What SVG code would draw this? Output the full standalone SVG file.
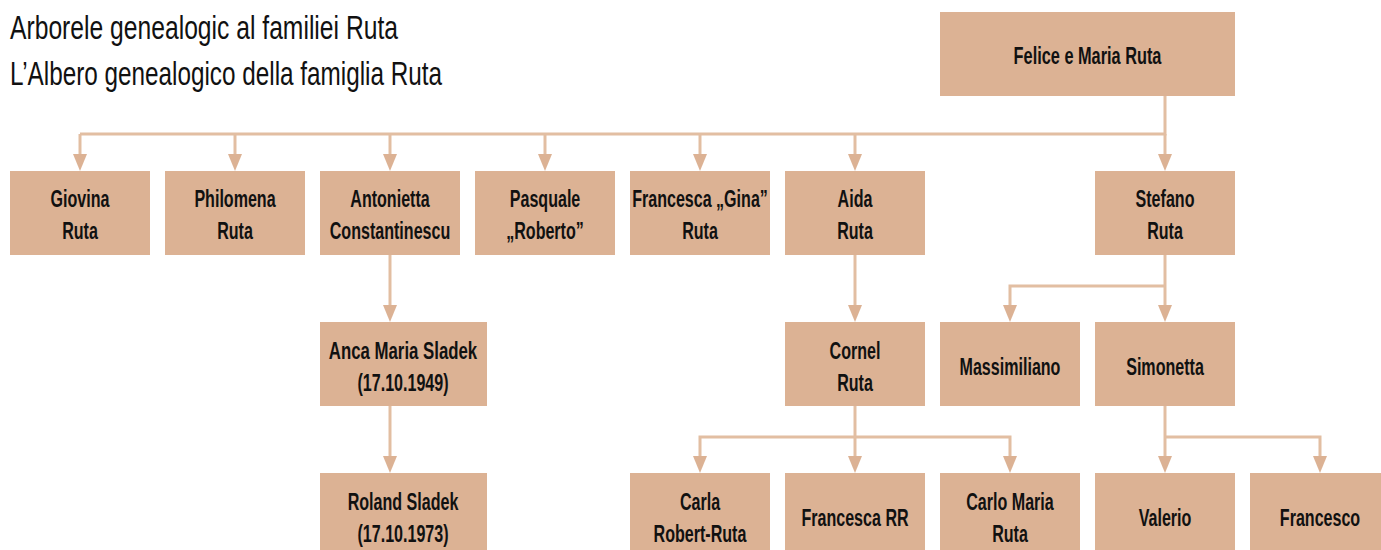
<svg xmlns="http://www.w3.org/2000/svg" width="1381" height="550" viewBox="0 0 1381 550">
<defs>
<style>
.box{fill:#DCB294;}
.lbl{font-family:"Liberation Sans",Arial,sans-serif;font-weight:bold;font-size:24px;fill:#111;text-anchor:middle;}
.title{font-family:"Liberation Sans",Arial,sans-serif;font-size:33px;fill:#111;}
.ln{fill:none;stroke:#E2BEA2;stroke-width:3;}
.ah{fill:#DCB294;}
</style>
</defs>
<rect width="1381" height="550" fill="#fff"/>
<g id="title">
<text class="title" x="10" y="39" textLength="388" lengthAdjust="spacingAndGlyphs">Arborele genealogic al familiei Ruta</text>
<text class="title" x="10" y="85" textLength="432" lengthAdjust="spacingAndGlyphs">L’Albero genealogico della famiglia Ruta</text>
</g>
<g id="connectors">
<path class="ln" d="M1165,96 V134 H80"/>
<path class="ln" d="M80,134 V156"/>
<path class="ln" d="M235,134 V156"/>
<path class="ln" d="M390,134 V156"/>
<path class="ln" d="M545,134 V156"/>
<path class="ln" d="M700,134 V156"/>
<path class="ln" d="M855,134 V156"/>
<path class="ln" d="M1165,134 V156"/>
<path class="ln" d="M390,255 V307"/>
<path class="ln" d="M390,406 V458"/>
<path class="ln" d="M855,255 V307"/>
<path class="ln" d="M1165,255 V307"/>
<path class="ln" d="M1165,286 H1010 V307"/>
<path class="ln" d="M855,406 V458"/>
<path class="ln" d="M855,437 H700 V458"/>
<path class="ln" d="M855,437 H1010 V458"/>
<path class="ln" d="M1165,406 V458"/>
<path class="ln" d="M1165,437 H1320 V458"/>
<path class="ah" d="M73,154 L87,154 L80,171 Z"/>
<path class="ah" d="M228,154 L242,154 L235,171 Z"/>
<path class="ah" d="M383,154 L397,154 L390,171 Z"/>
<path class="ah" d="M538,154 L552,154 L545,171 Z"/>
<path class="ah" d="M693,154 L707,154 L700,171 Z"/>
<path class="ah" d="M848,154 L862,154 L855,171 Z"/>
<path class="ah" d="M1158,154 L1172,154 L1165,171 Z"/>
<path class="ah" d="M383,305 L397,305 L390,322 Z"/>
<path class="ah" d="M848,305 L862,305 L855,322 Z"/>
<path class="ah" d="M1003,305 L1017,305 L1010,322 Z"/>
<path class="ah" d="M1158,305 L1172,305 L1165,322 Z"/>
<path class="ah" d="M383,456 L397,456 L390,473 Z"/>
<path class="ah" d="M693,456 L707,456 L700,473 Z"/>
<path class="ah" d="M848,456 L862,456 L855,473 Z"/>
<path class="ah" d="M1003,456 L1017,456 L1010,473 Z"/>
<path class="ah" d="M1158,456 L1172,456 L1165,473 Z"/>
<path class="ah" d="M1313,456 L1327,456 L1320,473 Z"/>
</g>
<g id="n-felice"><rect class="box" x="940" y="12" width="295" height="84"/><text class="lbl" transform="translate(1087.5,64) scale(0.68,1)">Felice e Maria Ruta</text></g>
<g id="n-giovina"><rect class="box" x="10" y="171" width="140" height="84"/><text class="lbl" transform="translate(80,207) scale(0.67,1)">Giovina</text><text class="lbl" transform="translate(80,239) scale(0.67,1)">Ruta</text></g>
<g id="n-philomena"><rect class="box" x="165" y="171" width="140" height="84"/><text class="lbl" transform="translate(235,207) scale(0.67,1)">Philomena</text><text class="lbl" transform="translate(235,239) scale(0.67,1)">Ruta</text></g>
<g id="n-antonietta"><rect class="box" x="320" y="171" width="140" height="84"/><text class="lbl" transform="translate(390,207) scale(0.67,1)">Antonietta</text><text class="lbl" transform="translate(390,239) scale(0.67,1)">Constantinescu</text></g>
<g id="n-pasquale"><rect class="box" x="475" y="171" width="140" height="84"/><text class="lbl" transform="translate(545,207) scale(0.67,1)">Pasquale</text><text class="lbl" transform="translate(545,239) scale(0.67,1)">„Roberto”</text></g>
<g id="n-gina"><rect class="box" x="630" y="171" width="140" height="84"/><text class="lbl" transform="translate(700,207) scale(0.67,1)">Francesca „Gina”</text><text class="lbl" transform="translate(700,239) scale(0.67,1)">Ruta</text></g>
<g id="n-aida"><rect class="box" x="785" y="171" width="140" height="84"/><text class="lbl" transform="translate(855,207) scale(0.67,1)">Aida</text><text class="lbl" transform="translate(855,239) scale(0.67,1)">Ruta</text></g>
<g id="n-stefano"><rect class="box" x="1095" y="171" width="140" height="84"/><text class="lbl" transform="translate(1165,207) scale(0.67,1)">Stefano</text><text class="lbl" transform="translate(1165,239) scale(0.67,1)">Ruta</text></g>
<g id="n-anca"><rect class="box" x="320" y="322" width="167" height="84"/><text class="lbl" transform="translate(403,359) scale(0.7,1)">Anca Maria Sladek</text><text class="lbl" transform="translate(403,391) scale(0.67,1)">(17.10.1949)</text></g>
<g id="n-cornel"><rect class="box" x="785" y="322" width="140" height="84"/><text class="lbl" transform="translate(855,359) scale(0.67,1)">Cornel</text><text class="lbl" transform="translate(855,391) scale(0.67,1)">Ruta</text></g>
<g id="n-massimiliano"><rect class="box" x="940" y="322" width="140" height="84"/><text class="lbl" transform="translate(1010,375) scale(0.67,1)">Massimiliano</text></g>
<g id="n-simonetta"><rect class="box" x="1095" y="322" width="140" height="84"/><text class="lbl" transform="translate(1165,375) scale(0.67,1)">Simonetta</text></g>
<g id="n-roland"><rect class="box" x="320" y="473" width="167" height="84"/><text class="lbl" transform="translate(403,510) scale(0.67,1)">Roland Sladek</text><text class="lbl" transform="translate(403,542) scale(0.67,1)">(17.10.1973)</text></g>
<g id="n-carla"><rect class="box" x="630" y="473" width="140" height="84"/><text class="lbl" transform="translate(700,510) scale(0.67,1)">Carla</text><text class="lbl" transform="translate(700,542) scale(0.67,1)">Robert-Ruta</text></g>
<g id="n-francescarr"><rect class="box" x="785" y="473" width="140" height="84"/><text class="lbl" transform="translate(855,526) scale(0.67,1)">Francesca RR</text></g>
<g id="n-carlomaria"><rect class="box" x="940" y="473" width="140" height="84"/><text class="lbl" transform="translate(1010,510) scale(0.67,1)">Carlo Maria</text><text class="lbl" transform="translate(1010,542) scale(0.67,1)">Ruta</text></g>
<g id="n-valerio"><rect class="box" x="1095" y="473" width="140" height="84"/><text class="lbl" transform="translate(1165,526) scale(0.67,1)">Valerio</text></g>
<g id="n-francesco"><rect class="box" x="1250" y="473" width="140" height="84"/><text class="lbl" transform="translate(1320,526) scale(0.67,1)">Francesco</text></g>
</svg>
